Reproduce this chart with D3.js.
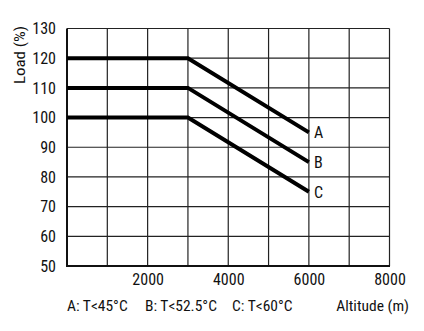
<!DOCTYPE html>
<html><head><meta charset="utf-8">
<script src="https://cdn.jsdelivr.net/npm/d3@7"></script>
<style>body{margin:0;background:#fff}text{font-family:"Liberation Sans Narrow","Roboto Condensed","Liberation Sans",sans-serif;fill:#111}</style>
</head><body>
<svg id="c" width="424" height="331"></svg>
<script>
const altitudes = [0, 3000, 6000];
const seriesA = [120, 120, 95];
const seriesB = [110, 110, 85];
const seriesC = [100, 100, 75];
const seriesNames = ["A", "B", "C"];
const xTicks = [2000, 4000, 6000, 8000];
const yTicks = [50, 60, 70, 80, 90, 100, 110, 120, 130];
const legendTexts = ["A: T<45°C", "B: T<52.5°C", "C: T<60°C"];

const svg = d3.select("#c");
const L = 67, R = 389.5, T = 28.5, B = 266;
const x = d3.scaleLinear().domain([0, 8000]).range([L, R]);
const y = d3.scaleLinear().domain([50, 130]).range([B, T]);

// grid
const g = svg.append("g");
g.selectAll(".vx").data(d3.range(1000, 8001, 1000)).join("line")
  .attr("x1", d => x(d)).attr("x2", d => x(d)).attr("y1", T).attr("y2", B)
  .attr("stroke", "#222").attr("stroke-width", 1.2);
g.selectAll(".hy").data(d3.range(60, 131, 10)).join("line")
  .attr("x1", L).attr("x2", R).attr("y1", d => y(d)).attr("y2", d => y(d))
  .attr("stroke", "#222").attr("stroke-width", 1.2);
// axes lines
g.append("line").attr("x1", L).attr("x2", L).attr("y1", T).attr("y2", B + 1).attr("stroke", "#111").attr("stroke-width", 2);
g.append("line").attr("x1", L).attr("x2", R + 0.5).attr("y1", B).attr("y2", B).attr("stroke", "#111").attr("stroke-width", 2);

// y tick labels
const yAxis = d3.axisLeft(y).tickValues(yTicks).tickSize(0).tickPadding(11).tickFormat(d3.format("d"));
const ya = svg.append("g").attr("transform", `translate(${L},0)`).call(yAxis);
ya.select(".domain").remove();
ya.selectAll("text").style("font-size", "16px").style("font-family", null);

const xAxis = d3.axisBottom(x).tickValues(xTicks).tickSize(0).tickPadding(8).tickFormat(d3.format("d"));
const xa = svg.append("g").attr("transform", `translate(0,${B})`).call(xAxis);
xa.select(".domain").remove();
xa.selectAll("text").style("font-size", "16px").style("font-family", null);

// lines
const all = [seriesA, seriesB, seriesC];
const line = d3.line().x((d, i) => x(altitudes[i])).y(d => y(d));
svg.selectAll(".s").data(all).join("path")
  .attr("d", d => line(d)).attr("fill", "none").attr("stroke", "#000")
  .attr("stroke-width", 4).attr("stroke-linejoin", "miter");
svg.selectAll(".sl").data(all).join("text")
  .attr("x", x(altitudes[2]) + 5).attr("y", d => y(d[2]) + 6)
  .style("font-size", "16px").text((d, i) => seriesNames[i]);

// axis titles
svg.append("text").attr("transform", "translate(25,55) rotate(-90)").attr("text-anchor", "middle")
  .style("font-size", "15px").attr("textLength", 58).attr("lengthAdjust", "spacingAndGlyphs").text("Load (%)");
svg.append("text").attr("x", 409).attr("y", 311).attr("text-anchor", "end")
  .style("font-size", "15.5px").text("Altitude (m)");
const lx = [67, 145, 232];
svg.selectAll(".lg").data(legendTexts).join("text")
  .attr("x", (d, i) => lx[i]).attr("y", 311).style("font-size", "15.5px").text(d => d);
</script>
</body></html>
